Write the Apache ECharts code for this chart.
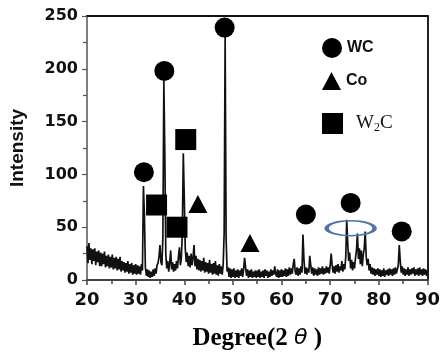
<!DOCTYPE html>
<html>
<head>
<meta charset="utf-8">
<script src="https://cdn.jsdelivr.net/npm/echarts@6/dist/echarts.min.js"></script>
<style>
  html, body { margin: 0; padding: 0; background: #fff; }
  #chart { width: 443px; height: 360px; }
</style>
</head>
<body>
<div id="chart"></div>
<script>
// XRD scan: 2θ from 20 to 90 in 0.2° steps
const scanStart = 20
const scanStep = 0.2
const intensity = [
  // 20.0 - 24.8
  32, 16, 35, 19, 30, 15, 29, 18, 30, 14, 27, 17, 28, 13, 26, 13, 25, 15, 27, 12, 23, 13, 24, 11, 22,
  // 25.0 - 29.8
  12, 24, 10, 21, 11, 22, 9, 20, 10, 22, 8, 18, 9, 17, 7, 16, 8, 18, 6, 15, 7, 16, 5, 14, 6,
  // 30.0 - 34.8
  15, 5, 14, 6, 13, 5, 15, 9, 89, 62, 12, 4, 10, 3, 9, 2, 8, 3, 10, 4, 11, 6, 14, 16, 22,
  // 35.0 - 39.8
  33, 17, 14, 40, 189, 120, 24, 11, 18, 8, 16, 28, 10, 17, 8, 15, 9, 18, 11, 22, 31, 14, 21, 45, 120,
  // 40.0 - 44.8
  78, 30, 17, 26, 13, 23, 12, 25, 14, 21, 33, 13, 23, 10, 20, 9, 19, 8, 18, 9, 21, 7, 17, 8, 16,
  // 45.0 - 49.8
  6, 19, 7, 15, 5, 16, 6, 18, 5, 14, 4, 15, 6, 13, 5, 15, 45, 230, 40, 8, 12, 3, 11, 2, 10,
  // 50.0 - 54.8
  3, 11, 2, 9, 3, 10, 2, 9, 4, 11, 3, 10, 21, 12, 4, 10, 2, 9, 3, 10, 2, 8, 3, 9, 2,
  // 55.0 - 59.8
  9, 3, 10, 2, 8, 3, 9, 2, 10, 4, 9, 2, 8, 3, 10, 4, 9, 5, 13, 6, 3, 10, 2, 9, 3,
  // 60.0 - 64.8
  10, 3, 9, 4, 11, 3, 10, 4, 12, 5, 11, 6, 15, 20, 8, 5, 12, 4, 11, 5, 13, 7, 43, 20, 6,
  // 65.0 - 69.8
  12, 5, 11, 7, 23, 14, 6, 12, 4, 11, 5, 10, 4, 12, 5, 11, 6, 13, 5, 11, 6, 13, 7, 12, 6,
  // 70.0 - 74.8
  14, 25, 14, 7, 13, 6, 14, 8, 15, 7, 13, 9, 18, 8, 15, 10, 22, 57, 35, 18, 26, 11, 19, 9, 17,
  // 75.0 - 79.8
  11, 21, 28, 44, 20, 30, 15, 28, 13, 24, 30, 46, 22, 14, 20, 9, 15, 6, 12, 5, 11, 4, 10, 5, 11,
  // 80.0 - 84.8
  4, 10, 3, 9, 4, 11, 3, 9, 5, 10, 4, 11, 5, 10, 4, 11, 5, 12, 6, 10, 14, 33, 18, 7, 13,
  // 85.0 - 90.0
  5, 11, 4, 10, 5, 12, 4, 10, 5, 11, 6, 12, 4, 10, 5, 11, 4, 12, 5, 10, 4, 11, 5, 10, 4, 9
]

// phase markers [2θ, intensity]
const wcMarks = [[31.7, 102], [35.9, 198], [48.3, 239], [65.0, 62], [74.2, 73], [84.7, 46]]
const coMarks = [[42.8, 72], [53.5, 35]]
const w2cMarks = [[34.3, 71], [38.5, 50], [40.3, 133]]
const ringMark = [[74.2, 49]]

const xTicks = { min: 20, max: 90, step: 10 }
const yTicks = { min: 0, max: 250, step: 50 }

const scan = intensity.map((v, i) => [+(scanStart + i * scanStep).toFixed(1), v])

const chart = echarts.init(document.getElementById('chart'))

const tickFont = {
  fontFamily: '"DejaVu Sans", sans-serif',
  fontWeight: 'bold',
  color: '#111'
}
const legendFont = {
  fontFamily: '"Liberation Sans Narrow", "Liberation Sans", sans-serif',
  fontWeight: 'bold',
  fontSize: 16,
  color: '#111'
}

const option = {
  animation: false,
  backgroundColor: '#fff',
  grid: { left: 82, right: 13, top: 16, bottom: 80 },
  legend: [
    { data: ['WC'], left: 317, top: 33, itemWidth: 20, itemHeight: 20, textStyle: legendFont },
    { data: ['Co'], left: 317, top: 67, itemWidth: 19, itemHeight: 18, textStyle: legendFont },
    {
      data: ['W2C'], left: 317, top: 108, itemWidth: 21, itemHeight: 21,
      formatter: () => '{w|W}{s|2}{w|C}',
      textStyle: {
        rich: {
          w: { fontFamily: '"Liberation Serif", serif', fontSize: 19, color: '#111' },
          s: { fontFamily: '"Liberation Serif", serif', fontSize: 12, color: '#111', verticalAlign: 'bottom', padding: [8, 0, 0, 0] }
        },
        padding: [0, 0, 0, 8]
      }
    }
  ],
  xAxis: [
    {
      type: 'value', min: xTicks.min, max: xTicks.max, interval: xTicks.step,
      axisLine: { lineStyle: { color: '#444', width: 2 } },
      axisTick: { show: true, inside: false, length: 5, lineStyle: { color: '#444', width: 1.5 } },
      minorTick: { show: true, splitNumber: 2, length: 4, lineStyle: { color: '#444', width: 1.5 } },
      splitLine: { show: false },
      axisLabel: { ...tickFont, fontSize: 18, margin: 11 },
      name: '{a|Degree(2 }{t|θ}{a| )}',
      nameLocation: 'middle',
      nameGap: 46,
      nameTextStyle: {
        rich: {
          a: { fontFamily: '"Liberation Serif", serif', fontWeight: 'bold', fontSize: 25, color: '#000' },
          t: { fontFamily: '"DejaVu Sans", sans-serif', fontStyle: 'italic', fontSize: 22, color: '#000' }
        }
      }
    },
    {
      type: 'value', position: 'top', min: xTicks.min, max: xTicks.max,
      axisLine: { show: true, onZero: false, lineStyle: { color: '#111', width: 2 } },
      axisTick: { show: false }, axisLabel: { show: false }, splitLine: { show: false }
    }
  ],
  yAxis: [
    {
      type: 'value', min: yTicks.min, max: yTicks.max, interval: yTicks.step,
      axisLine: { show: true, lineStyle: { color: '#555', width: 1.5 } },
      axisTick: { show: true, inside: false, length: 5, lineStyle: { color: '#555', width: 1.2 } },
      minorTick: { show: true, splitNumber: 2, length: 4, lineStyle: { color: '#555', width: 1.2 } },
      splitLine: { show: false },
      axisLabel: { ...tickFont, fontSize: 16, margin: 9 },
      name: 'Intensity',
      nameLocation: 'middle',
      nameRotate: 90,
      nameGap: 60,
      nameTextStyle: { fontFamily: '"Liberation Sans Narrow", "Liberation Sans", sans-serif', fontWeight: 'bold', fontSize: 19, color: '#111' }
    },
    {
      type: 'value', position: 'right', min: yTicks.min, max: yTicks.max,
      axisLine: { show: true, onZero: false, lineStyle: { color: '#222', width: 2 } },
      axisTick: { show: false }, axisLabel: { show: false }, splitLine: { show: false }
    }
  ],
  series: [
    {
      name: 'scan', type: 'line', data: scan, showSymbol: false, symbol: 'none',
      lineStyle: { color: '#111', width: 1.7 }, z: 2
    },
    {
      name: 'WC', type: 'scatter', data: wcMarks, symbol: 'circle', symbolSize: 20,
      itemStyle: { color: '#000', opacity: 1 }, z: 5
    },
    {
      name: 'Co', type: 'scatter', data: coMarks, symbol: 'triangle', symbolSize: [19, 18],
      itemStyle: { color: '#000', opacity: 1 }, z: 5
    },
    {
      name: 'W2C', type: 'scatter', data: w2cMarks, symbol: 'rect', symbolSize: 21,
      itemStyle: { color: '#000', opacity: 1 }, z: 5
    },
    {
      name: 'ring', type: 'scatter', data: ringMark, symbol: 'circle', symbolSize: [48, 15],
      itemStyle: { color: 'rgba(0,0,0,0)', borderColor: '#4f74a8', borderWidth: 2.5, opacity: 1 }, z: 6
    }
  ]
}

chart.setOption(option)
</script>
</body>
</html>
